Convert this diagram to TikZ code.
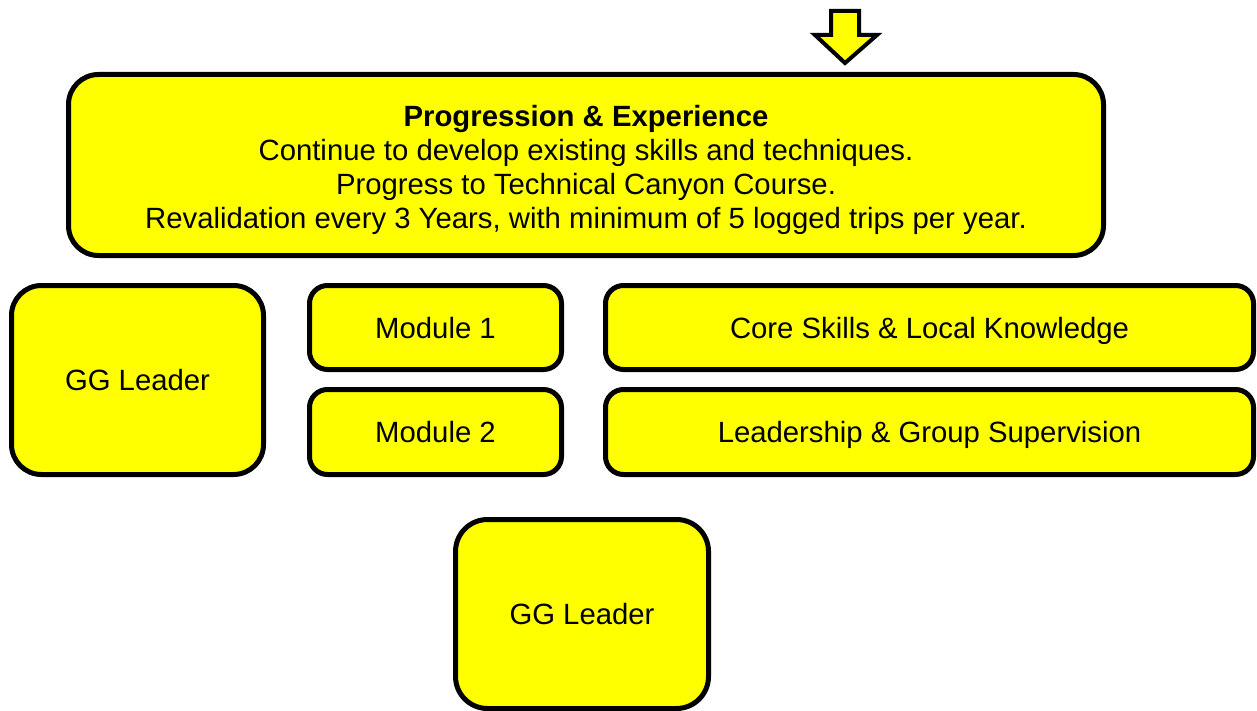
\documentclass[tikz,border=0pt]{standalone}
\usepackage{fontspec}
\setmainfont{Liberation Sans}
\definecolor{yel}{RGB}{255,255,0}
\begin{document}
\begin{tikzpicture}[x=1pt,y=-1pt,
  box/.style={draw=black,fill=yel,line width=5pt,rounded corners=#1,inner sep=0pt,align=center,
    font=\fontsize{29.3}{34}\selectfont},
  box/.default=18pt,
  one/.style={text height=21pt,text depth=0pt},
  txt/.style={inner sep=0pt,align=center,font=\fontsize{29.3}{34}\selectfont}]
\useasboundingbox (0,0) rectangle (1257,711);
\node[box=30pt,minimum width=1035pt,minimum height=181pt] (top) at (586,165) {};
\node[txt] (toptext) at (586,170)
  {\textbf{Progression \& Experience}\\Continue to develop existing skills and techniques.\\Progress to Technical Canyon Course.\\Revalidation every 3 Years, with minimum of 5 logged trips per year.};
\node[box=30pt,one,minimum width=252pt,minimum height=189pt] (gg1) at (137.5,380) {GG Leader};
\node[box,one,minimum width=252pt,minimum height=84pt] (m1) at (435.5,327.5) {Module 1};
\node[box,one,minimum width=252pt,minimum height=85pt] (m2) at (435.5,432) {Module 2};
\node[box,one,minimum width=648pt,minimum height=84pt] (core) at (929.5,327.5) {Core Skills \& Local Knowledge};
\node[box,one,minimum width=648pt,minimum height=85pt] (lead) at (929.5,432) {Leadership \& Group Supervision};
\node[box=32pt,one,minimum width=253pt,minimum height=189pt] (gg2) at (582,614) {GG Leader};
\draw[line width=4pt,fill=yel,line join=miter] (831,11) -- (859,11) -- (859,35) -- (877,35) -- (845,63) -- (815,35) -- (831,35) -- cycle;
\end{tikzpicture}
\end{document}
